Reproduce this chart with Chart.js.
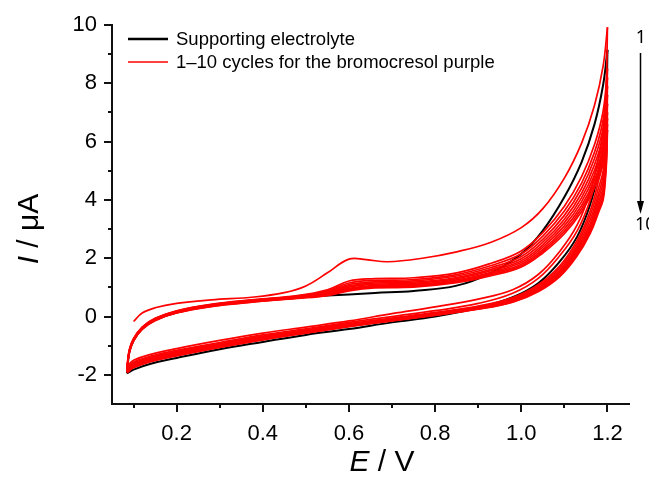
<!DOCTYPE html>
<html>
<head>
<meta charset="utf-8">
<script src="https://cdn.jsdelivr.net/npm/chart.js@4.4.1/dist/chart.umd.min.js"></script>
<style>
  html, body { margin: 0; padding: 0; background: #fff; }
  #wrap { width: 649px; height: 477px; }
</style>
</head>
<body>
<div id="wrap"><canvas id="cv" width="649" height="477"></canvas></div>
<script>
// ---- Potential grids (V) ----
const E_FWD = [0.085, 0.09, 0.10, 0.12, 0.15, 0.20, 0.28, 0.38, 0.48, 0.55, 0.60, 0.66, 0.75, 0.85, 0.93, 1.00, 1.05, 1.10, 1.14, 1.17, 1.19, 1.20];
const E_FWD_FIRST = [0.10, 0.12, 0.15, 0.20, 0.28, 0.38, 0.45, 0.50, 0.55, 0.60, 0.64, 0.69, 0.77, 0.85, 0.93, 1.00, 1.05, 1.10, 1.14, 1.17, 1.19, 1.20];
const E_REV = [1.20, 1.198, 1.195, 1.19, 1.18, 1.16, 1.13, 1.09, 1.04, 0.98, 0.90, 0.80, 0.70, 0.60, 0.50, 0.40, 0.30, 0.20, 0.14, 0.10, 0.085];

// ---- Supporting electrolyte (µA) ----
const BLANK_FWD = [-1.95, -1.25, -0.82, -0.42, -0.12, 0.14, 0.38, 0.55, 0.66, 0.72, 0.76, 0.81, 0.88, 1.06, 1.50, 2.15, 2.95, 4.10, 5.30, 6.60, 7.95, 9.15];
const BLANK_REV = [9.15, 7.60, 6.60, 5.80, 5.00, 3.85, 2.75, 1.90, 1.15, 0.66, 0.30, 0.00, -0.20, -0.43, -0.63, -0.87, -1.12, -1.42, -1.62, -1.82, -1.95];

// ---- Bromocresol purple, cycles 1–10 (µA) ----
const CYCLE_FWD = [
  [-0.17, 0.12, 0.30, 0.45, 0.57, 0.67, 0.82, 1.05, 1.50, 1.97, 1.95, 1.88, 2.00, 2.22, 2.55, 3.05, 3.70, 4.75, 5.95, 7.25, 8.60, 9.92],
  [-1.70, -1.15, -0.75, -0.36, -0.06, 0.20, 0.42, 0.58, 0.72, 0.92, 1.22, 1.30, 1.33, 1.50, 1.83, 2.25, 2.88, 3.78, 4.80, 5.90, 7.05, 8.50],
  [-1.75, -1.17, -0.77, -0.37, -0.07, 0.19, 0.41, 0.57, 0.70, 0.88, 1.15, 1.24, 1.27, 1.44, 1.75, 2.15, 2.76, 3.62, 4.58, 5.64, 6.75, 8.20],
  [-1.78, -1.19, -0.78, -0.38, -0.08, 0.18, 0.40, 0.56, 0.68, 0.85, 1.10, 1.19, 1.22, 1.39, 1.68, 2.06, 2.65, 3.47, 4.40, 5.42, 6.48, 7.90],
  [-1.80, -1.20, -0.79, -0.39, -0.09, 0.17, 0.39, 0.55, 0.67, 0.82, 1.05, 1.15, 1.18, 1.34, 1.62, 1.98, 2.55, 3.34, 4.23, 5.21, 6.23, 7.60],
  [-1.83, -1.21, -0.80, -0.40, -0.10, 0.16, 0.38, 0.54, 0.66, 0.80, 1.01, 1.11, 1.14, 1.30, 1.57, 1.91, 2.46, 3.22, 4.08, 5.02, 6.00, 7.30],
  [-1.85, -1.22, -0.81, -0.41, -0.11, 0.15, 0.37, 0.53, 0.65, 0.78, 0.97, 1.07, 1.10, 1.26, 1.52, 1.85, 2.38, 3.11, 3.94, 4.85, 5.80, 7.00],
  [-1.87, -1.23, -0.82, -0.42, -0.12, 0.14, 0.36, 0.52, 0.64, 0.76, 0.94, 1.04, 1.07, 1.22, 1.48, 1.79, 2.30, 3.01, 3.81, 4.69, 5.61, 6.80],
  [-1.89, -1.24, -0.83, -0.43, -0.13, 0.13, 0.35, 0.51, 0.63, 0.74, 0.91, 1.01, 1.04, 1.19, 1.44, 1.74, 2.24, 2.92, 3.70, 4.55, 5.45, 6.60],
  [-1.91, -1.25, -0.84, -0.44, -0.14, 0.12, 0.34, 0.50, 0.62, 0.72, 0.88, 0.98, 1.01, 1.16, 1.40, 1.70, 2.18, 2.84, 3.60, 4.42, 5.30, 6.40]
];
const CYCLE_REV = [
  [9.92, 8.30, 7.30, 6.40, 5.50, 4.30, 3.15, 2.25, 1.45, 0.92, 0.60, 0.33, 0.10, -0.15, -0.36, -0.57, -0.82, -1.10, -1.30, -1.50, -1.70],
  [8.50, 7.40, 6.60, 5.90, 5.10, 4.00, 2.95, 2.10, 1.32, 0.80, 0.45, 0.20, 0.00, -0.20, -0.42, -0.63, -0.89, -1.16, -1.36, -1.56, -1.75],
  [8.20, 7.00, 6.10, 5.30, 4.70, 3.62, 2.62, 1.75, 1.10, 0.65, 0.36, 0.14, -0.05, -0.24, -0.46, -0.67, -0.93, -1.20, -1.40, -1.60, -1.78],
  [7.90, 6.70, 5.80, 5.00, 4.45, 3.47, 2.52, 1.68, 1.05, 0.62, 0.34, 0.12, -0.07, -0.26, -0.48, -0.69, -0.95, -1.23, -1.43, -1.63, -1.80],
  [7.60, 6.40, 5.55, 4.80, 4.25, 3.32, 2.42, 1.60, 1.00, 0.59, 0.32, 0.10, -0.09, -0.28, -0.50, -0.71, -0.97, -1.25, -1.45, -1.66, -1.83],
  [7.30, 6.15, 5.30, 4.60, 4.10, 3.19, 2.34, 1.54, 0.96, 0.56, 0.30, 0.08, -0.11, -0.30, -0.52, -0.73, -0.99, -1.27, -1.47, -1.68, -1.85],
  [7.00, 5.90, 5.10, 4.40, 3.95, 3.09, 2.27, 1.49, 0.93, 0.54, 0.28, 0.07, -0.12, -0.32, -0.54, -0.75, -1.01, -1.29, -1.49, -1.70, -1.87],
  [6.80, 5.70, 4.95, 4.25, 3.82, 3.00, 2.20, 1.45, 0.90, 0.52, 0.27, 0.06, -0.13, -0.33, -0.55, -0.77, -1.03, -1.31, -1.51, -1.72, -1.89],
  [6.60, 5.50, 4.80, 4.12, 3.70, 2.92, 2.14, 1.41, 0.88, 0.50, 0.26, 0.05, -0.14, -0.34, -0.56, -0.79, -1.05, -1.33, -1.53, -1.74, -1.91],
  [6.40, 5.35, 4.65, 4.00, 3.60, 2.85, 2.09, 1.38, 0.86, 0.49, 0.25, 0.04, -0.15, -0.35, -0.57, -0.80, -1.06, -1.35, -1.55, -1.76, -1.93]
];

// ---- Axis ticks and texts ----
const E_TICKS = [0.1, 0.2, 0.3, 0.4, 0.5, 0.6, 0.7, 0.8, 0.9, 1.0, 1.1, 1.2];
const E_LABELED = [0.2, 0.4, 0.6, 0.8, 1.0, 1.2];
const I_TICKS = [-2, -1, 0, 1, 2, 3, 4, 5, 6, 7, 8, 9, 10];
const I_LABELED = [-2, 0, 2, 4, 6, 8, 10];
const SERIES = ['Supporting electrolyte', '1\u201310 cycles for the bromocresol purple'];
const SERIES_COLORS = ['#000000', '#ff0000'];
const CYCLE_MARKS = ['1', '10'];

const FONT = '"Liberation Sans", Arial, Helvetica, sans-serif';
const AXIS_COLOR = '#111';

const pts = (E, I) => E.map((e, i) => ({ x: e, y: I[i] }));

const datasets = [];
CYCLE_FWD.forEach((I, k) => {
  const common = { label: SERIES[1], borderColor: SERIES_COLORS[1], borderWidth: 1.7, order: 0 };
  datasets.push(Object.assign({ data: pts(k === 0 ? E_FWD_FIRST : E_FWD, I) }, common));
  datasets.push(Object.assign({ data: pts(E_REV, CYCLE_REV[k]) }, common));
});
datasets.push({ label: SERIES[0], data: pts(E_FWD, BLANK_FWD), borderColor: SERIES_COLORS[0], borderWidth: 2, order: 1 });
datasets.push({ label: SERIES[0], data: pts(E_REV, BLANK_REV), borderColor: SERIES_COLORS[0], borderWidth: 2, order: 1 });

// text with an italic symbol followed by upright text, centred on (cx, cy)
function richText(ctx, parts, cx, cy, size) {
  const fonts = parts.map(p => (p.italic ? 'italic ' : '') + size + 'px ' + FONT);
  let total = 0;
  const widths = parts.map((p, i) => { ctx.font = fonts[i]; const w = ctx.measureText(p.t).width; total += w; return w; });
  let x = cx - total / 2;
  ctx.textAlign = 'left';
  ctx.textBaseline = 'middle';
  parts.forEach((p, i) => { ctx.font = fonts[i]; ctx.fillText(p.t, x, cy); x += widths[i]; });
}

const decor = {
  id: 'decor',
  afterDraw(chart) {
    const { ctx, chartArea: a, scales: { x, y } } = chart;
    ctx.save();
    // tick marks (major long, minor short), pointing outward
    ctx.strokeStyle = AXIS_COLOR;
    ctx.lineWidth = 2;
    ctx.beginPath();
    E_TICKS.forEach(v => {
      const px = Math.round(x.getPixelForValue(v));
      const len = E_LABELED.includes(v) ? 8 : 4;
      ctx.moveTo(px, a.bottom);
      ctx.lineTo(px, a.bottom + len);
    });
    I_TICKS.forEach(v => {
      const py = Math.round(y.getPixelForValue(v));
      const len = I_LABELED.includes(v) ? 8 : 4;
      ctx.moveTo(a.left, py);
      ctx.lineTo(a.left - len, py);
    });
    ctx.stroke();

    // axis titles
    ctx.fillStyle = '#000';
    richText(ctx, [{ t: 'E', italic: true }, { t: ' / V' }], 382, 463, 30);
    ctx.save();
    ctx.translate(30, 229);
    ctx.rotate(-Math.PI / 2);
    richText(ctx, [{ t: 'I', italic: true }, { t: ' / \u03bcA' }], 0, 0, 30);
    ctx.restore();

    // legend
    const rows = [39, 62];
    const lw = [2.5, 1.5];
    SERIES.forEach((name, i) => {
      ctx.strokeStyle = SERIES_COLORS[i];
      ctx.lineWidth = lw[i];
      ctx.beginPath();
      ctx.moveTo(128, rows[i]);
      ctx.lineTo(168, rows[i]);
      ctx.stroke();
      ctx.fillStyle = '#000';
      ctx.font = '18.5px ' + FONT;
      ctx.textAlign = 'left';
      ctx.textBaseline = 'middle';
      ctx.fillText(name, 176, rows[i] + 1);
    });

    // cycle order marker
    ctx.fillStyle = '#000';
    ctx.strokeStyle = '#000';
    ctx.font = '18px "Noto Sans", ' + FONT;
    ctx.textBaseline = 'middle';
    ctx.textAlign = 'center';
    ctx.fillText(CYCLE_MARKS[0], 641, 38);
    ctx.textAlign = 'left';
    ctx.fillText(CYCLE_MARKS[1], 635, 225);
    ctx.lineWidth = 1.5;
    ctx.beginPath();
    ctx.moveTo(640.5, 53);
    ctx.lineTo(640.5, 203);
    ctx.stroke();
    ctx.beginPath();
    ctx.moveTo(637, 201);
    ctx.lineTo(644, 201);
    ctx.lineTo(640.5, 214);
    ctx.closePath();
    ctx.fill();
    ctx.restore();
  }
};

new Chart(document.getElementById('cv'), {
  type: 'scatter',
  data: { datasets },
  options: {
    responsive: false,
    animation: false,
    devicePixelRatio: 1,
    layout: { padding: { top: 25, right: 20, left: 0, bottom: 0 } },
    datasets: {
      scatter: { showLine: true, pointRadius: 0, pointHoverRadius: 0, fill: false, tension: 0.4 }
    },
    plugins: { legend: { display: false }, tooltip: { enabled: false } },
    scales: {
      x: {
        type: 'linear',
        min: 0.05,
        max: 1.25,
        afterBuildTicks: s => { s.ticks = E_TICKS.map(v => ({ value: v })); },
        afterFit: s => { s.height = 73; },
        grid: { display: false },
        border: { display: true, color: AXIS_COLOR, width: 2 },
        ticks: {
          autoSkip: false,
          maxRotation: 0,
          padding: 9,
          color: '#000',
          font: { family: FONT, size: 22 },
          callback: v => (E_LABELED.includes(v) ? v.toFixed(1) : '')
        }
      },
      y: {
        type: 'linear',
        min: -3,
        max: 10,
        afterBuildTicks: s => { s.ticks = I_TICKS.map(v => ({ value: v })); },
        afterFit: s => { s.width = 112; },
        grid: { display: false },
        border: { display: true, color: AXIS_COLOR, width: 2 },
        ticks: {
          autoSkip: false,
          padding: 7,
          color: '#000',
          font: { family: FONT, size: 22 },
          callback: v => (I_LABELED.includes(v) ? String(v) : '')
        }
      }
    }
  },
  plugins: [decor]
});
</script>
</body>
</html>
